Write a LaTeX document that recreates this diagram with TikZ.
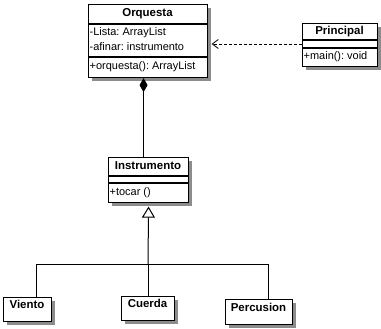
\documentclass[tikz,border=0pt]{standalone}
\usepackage{fontspec}
\setmainfont{Liberation Sans}
\usetikzlibrary{arrows.meta,shadows,calc}
\frenchspacing

\tikzset{
  cls/.style={draw=black, line width=1.1bp, fill=white, rectangle, inner sep=0pt,
    anchor=north west,
    general shadow={fill=black!45, shadow xshift=3.5bp, shadow yshift=-3.5bp}},
  ttl/.style={inner sep=0pt, font=\fontsize{11.5}{13}\selectfont\bfseries},
  txt/.style={inner sep=0pt, anchor=west, font=\fontsize{11}{13}\selectfont},
  sep/.style={line width=1.1bp},
  link/.style={line width=1bp},
  dep/.style={line width=0.9bp, dash pattern=on 3bp off 2bp,
    -{Straight Barb[length=6bp,width=9bp,line width=0.8bp]}},
  comp/.style={line width=1bp, {Diamond[length=14bp,width=8bp]}-},
  gen/.style={line width=1bp, -{Triangle[open,length=11bp,width=13bp,fill=white]}}
}

\begin{document}
\begin{tikzpicture}[x=1bp,y=-1bp]
  \useasboundingbox (0,0) rectangle (381,329);

  % Orquesta
  \node[cls, minimum width=119bp, minimum height=73bp] (orq) at (88,4) {};
  \node[ttl] (orqT) at (147.5,14) {Orquesta};
  \draw[sep] (orq.west |- 0,24) -- (orq.east |- 0,24);
  \node[txt] (orqA1) at (89.5,33) {-Lista: ArrayList};
  \node[txt] (orqA2) at (89.5,47) {-afinar: instrumento};
  \draw[sep] (orq.west |- 0,57) -- (orq.east |- 0,57);
  \node[txt] (orqO1) at (89.5,67) {+orquesta(): ArrayList};

  % Principal
  \node[cls, minimum width=75bp, minimum height=43bp] (pri) at (302,23) {};
  \node[ttl] (priT) at (339.5,31.5) {Principal};
  \draw[sep] (pri.west |- 0,40) -- (pri.east |- 0,40);
  \draw[sep] (pri.west |- 0,48) -- (pri.east |- 0,48);
  \node[txt] (priO1) at (303.5,57) {+main(): void};

  % Instrumento
  \node[cls, minimum width=80bp, minimum height=45bp] (ins) at (108,157) {};
  \node[ttl] (insT) at (148,166) {Instrumento};
  \draw[sep] (ins.west |- 0,176) -- (ins.east |- 0,176);
  \draw[sep] (ins.west |- 0,183) -- (ins.east |- 0,183);
  \node[txt] (insO1) at (109.5,192.5) {+tocar ()};

  % Subclasses
  \node[cls, minimum width=48bp, minimum height=24bp] (vie) at (3,297) {};
  \node[ttl] (vieT) at (27,304) {Viento};
  \node[cls, minimum width=53bp, minimum height=24bp] (cue) at (121,296) {};
  \node[ttl] (cueT) at (147.5,303) {Cuerda};
  \node[cls, minimum width=67bp, minimum height=25bp] (per) at (225,299) {};
  \node[ttl] (perT) at (258.5,307) {Percusion};

  % Dependency Principal -> Orquesta
  \draw[dep] (pri.west |- 0,44) -- ([xshift=3.5bp]orq.east |- 0,44);

  % Composition Orquesta <>-- Instrumento
  \draw[comp] ([xshift=-4.5bp]orq.south) -- ([xshift=-4.5bp]orq.south |- ins.north);

  % Generalization tree
  \coordinate (bus) at (148,264);
  \draw[gen] (bus) -- ([yshift=-3.5bp]ins.south);
  \draw[link] ([xshift=9bp]vie.north) |- ([xshift=9.5bp]per.north |- bus) -- ([xshift=9.5bp]per.north);
  \draw[link] (cue.north -| bus) -- (bus);
\end{tikzpicture}
\end{document}
